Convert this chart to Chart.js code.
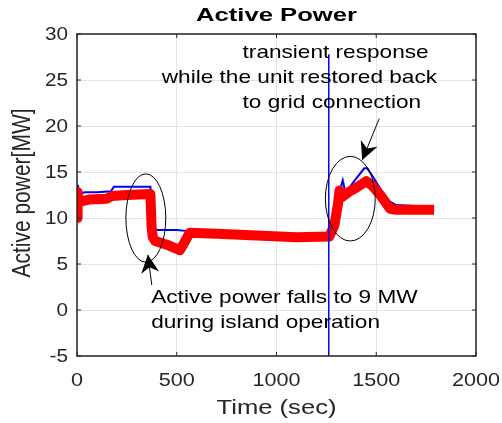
<!DOCTYPE html>
<html>
<head>
<meta charset="utf-8">
<script src="https://cdn.jsdelivr.net/npm/chart.js@4.4.0/dist/chart.umd.min.js"></script>
<style>
  html, body { margin: 0; padding: 0; background: #fff; }
  #wrap { width: 502px; height: 423px; position: relative; }
</style>
</head>
<body>
<div id="wrap"><canvas id="chart" width="502" height="423"></canvas></div>
<script>
const blueTime = [0, 5, 10, 20, 40, 100, 170, 185, 300, 368, 374, 382, 400, 500, 545, 565, 700, 900, 1100, 1262, 1280, 1300, 1318, 1332, 1345, 1365, 1400, 1440, 1455, 1480, 1520, 1560, 1600, 1700, 1790];
const blueMW   = [10, 13.6, 12.3, 12.7, 12.8, 12.8, 12.9, 13.4, 13.4, 13.4, 10.5, 8.8, 8.7, 8.7, 8.6, 8.3, 8.2, 8.0, 7.9, 8.0, 8.4, 10.2, 13.0, 14.1, 12.8, 13.3, 14.3, 15.4, 15.4, 14.6, 13.2, 11.9, 11.4, 11.3, 11.3];

const redTime = [0, 3, 8, 20, 60, 150, 175, 250, 368, 374, 380, 392, 450, 515, 530, 565, 700, 900, 1100, 1265, 1290, 1308, 1316, 1330, 1360, 1400, 1450, 1480, 1520, 1570, 1600, 1700, 1790];
const redMW   = [10, 12.8, 11.6, 11.8, 12.0, 12.1, 12.4, 12.5, 12.6, 9.0, 7.9, 7.5, 7.1, 6.5, 7.0, 8.4, 8.3, 8.1, 7.9, 8.0, 9.2, 11.5, 13.0, 12.3, 12.8, 13.3, 14.0, 13.5, 12.5, 11.0, 10.9, 10.9, 10.9];

const reconnectTime = 1262;
const reconnectSpan = [-5, 27.8];

const xTicks = [0, 500, 1000, 1500, 2000];
const yTicks = [-5, 0, 5, 10, 15, 20, 25, 30];

const toPts = (t, v) => t.map((x, i) => ({ x: x, y: v[i] }));

const FONT = '"Liberation Sans", Arial, sans-serif';

// text in the original figure is a little stretched sideways
function txt(ctx, s, x, y, size, opts) {
  const o = opts || {};
  ctx.save();
  ctx.font = (o.bold ? 'bold ' : '') + size + 'px ' + FONT;
  ctx.fillStyle = o.color || '#000';
  ctx.textBaseline = 'middle';
  ctx.textAlign = o.align || 'left';
  ctx.translate(x, y);
  if (o.rotate) ctx.rotate(o.rotate);
  if (o.rotate) ctx.scale(1, o.stretch || 1.2); else ctx.scale(o.stretch || 1.2, 1);
  ctx.fillText(s, 0, 0);
  ctx.restore();
}

// draws the MATLAB style decorations: box, inward ticks, labels, notes
const decorations = {
  id: 'decorations',
  afterDraw(chart) {
    const ctx = chart.ctx;
    const a = chart.chartArea;
    const xs = chart.scales.x, ys = chart.scales.y;
    const X = v => xs.getPixelForValue(v), Y = v => ys.getPixelForValue(v);
    ctx.save();

    // axes box
    ctx.strokeStyle = '#262626';
    ctx.lineWidth = 1.5;
    ctx.strokeRect(a.left, a.top, a.right - a.left, a.bottom - a.top);

    // inward ticks + tick labels
    ctx.lineWidth = 1;
    xTicks.forEach(t => {
      const px = X(t);
      ctx.beginPath();
      ctx.moveTo(px, a.bottom); ctx.lineTo(px, a.bottom - 4);
      ctx.moveTo(px, a.top); ctx.lineTo(px, a.top + 4);
      ctx.stroke();
      txt(ctx, String(t), px, a.bottom + 25, 18, { align: 'center', color: '#262626', stretch: 1.2 });
    });
    yTicks.forEach(t => {
      const py = Y(t);
      ctx.beginPath();
      ctx.moveTo(a.left, py); ctx.lineTo(a.left + 4, py);
      ctx.moveTo(a.right, py); ctx.lineTo(a.right - 4, py);
      ctx.stroke();
      txt(ctx, String(t), a.left - 9, py + 1, 18, { align: 'right', color: '#262626', stretch: 1.15 });
    });

    // ellipses
    ctx.strokeStyle = '#000';
    ctx.lineWidth = 1;
    [[345, 10.0, 100, 4.8], [1370, 12.1, 125, 4.6]].forEach(e => {
      const cx = X(e[0]), cy = Y(e[1]);
      const rx = Math.abs(X(e[0] + e[2]) - cx), ry = Math.abs(Y(e[1] + e[3]) - cy);
      ctx.beginPath();
      ctx.ellipse(cx, cy, rx, ry, 0, 0, Math.PI * 2);
      ctx.stroke();
    });

    // arrows
    const arrow = (x1, y1, x2, y2) => {
      const ax = X(x1), ay = Y(y1), bx = X(x2), by = Y(y2);
      const ang = Math.atan2(by - ay, bx - ax);
      ctx.beginPath();
      ctx.moveTo(ax, ay); ctx.lineTo(bx, by);
      ctx.lineWidth = 1;
      ctx.stroke();
      const len = 18, w = 9;
      ctx.beginPath();
      ctx.moveTo(bx, by);
      ctx.lineTo(bx - len * Math.cos(ang) + w * Math.sin(ang), by - len * Math.sin(ang) - w * Math.cos(ang));
      ctx.lineTo(bx - len * 0.7 * Math.cos(ang), by - len * 0.7 * Math.sin(ang));
      ctx.lineTo(bx - len * Math.cos(ang) - w * Math.sin(ang), by - len * Math.sin(ang) + w * Math.cos(ang));
      ctx.closePath();
      ctx.fillStyle = '#000';
      ctx.fill();
    };
    arrow(375, 2.7, 355, 6.0);
    arrow(1515, 20.8, 1430, 16.3);
    ctx.restore();

    // notes
    txt(ctx, 'transient response', X(830), 53, 19, { stretch: 1.19 });
    txt(ctx, 'while the unit restored back', X(425), 78, 19, { stretch: 1.19 });
    txt(ctx, 'to grid connection', X(830), 103, 19, { stretch: 1.19 });
    txt(ctx, 'Active power falls to 9 MW', X(372), 298, 19, { stretch: 1.19 });
    txt(ctx, 'during island operation', X(372), 323, 19, { stretch: 1.19 });

    // titles
    txt(ctx, 'Active Power', (a.left + a.right) / 2, 16, 19, { bold: true, align: 'center', stretch: 1.35 });
    txt(ctx, 'Time (sec)', (a.left + a.right) / 2, 408, 21, { align: 'center', color: '#262626', stretch: 1.22 });
    txt(ctx, 'Active power[MW]', 23, (a.top + a.bottom) / 2 - 2, 21, { align: 'center', color: '#262626', rotate: -Math.PI / 2, stretch: 1.2 });
  }
};

new Chart(document.getElementById('chart'), {
  type: 'line',
  data: {
    datasets: [
      {
        data: toPts(redTime, redMW),
        borderColor: '#ff0000',
        borderWidth: 10,
        borderJoinStyle: 'round',
        pointRadius: 0,
        tension: 0,
        order: 1
      },
      {
        data: toPts(blueTime, blueMW),
        borderColor: '#0000ff',
        borderWidth: 2,
        pointRadius: 0,
        tension: 0,
        order: 2
      },
      {
        data: reconnectSpan.map(v => ({ x: reconnectTime, y: v })),
        borderColor: '#0000ff',
        borderWidth: 1.5,
        pointRadius: 0,
        order: 0
      }
    ]
  },
  options: {
    responsive: false,
    animation: false,
    devicePixelRatio: 1,
    layout: { padding: { top: 34, right: 26, left: 0, bottom: 0 } },
    plugins: { legend: { display: false }, tooltip: { enabled: false }, title: { display: false } },
    scales: {
      x: {
        type: 'linear',
        min: 0, max: 2000,
        afterBuildTicks: s => { s.ticks = xTicks.map(v => ({ value: v })); },
        afterFit: s => { s.height = 67; s.paddingLeft = 0; s.paddingRight = 0; },
        grid: { color: '#e3e3e3', drawTicks: false },
        border: { display: false },
        ticks: { display: false }
      },
      y: {
        min: -5, max: 30,
        afterBuildTicks: s => { s.ticks = yTicks.map(v => ({ value: v })); },
        afterFit: s => { s.width = 77; s.paddingTop = 0; s.paddingBottom = 0; },
        grid: { color: '#e3e3e3', drawTicks: false },
        border: { display: false },
        ticks: { display: false }
      }
    }
  },
  plugins: [decorations]
});
</script>
</body>
</html>
